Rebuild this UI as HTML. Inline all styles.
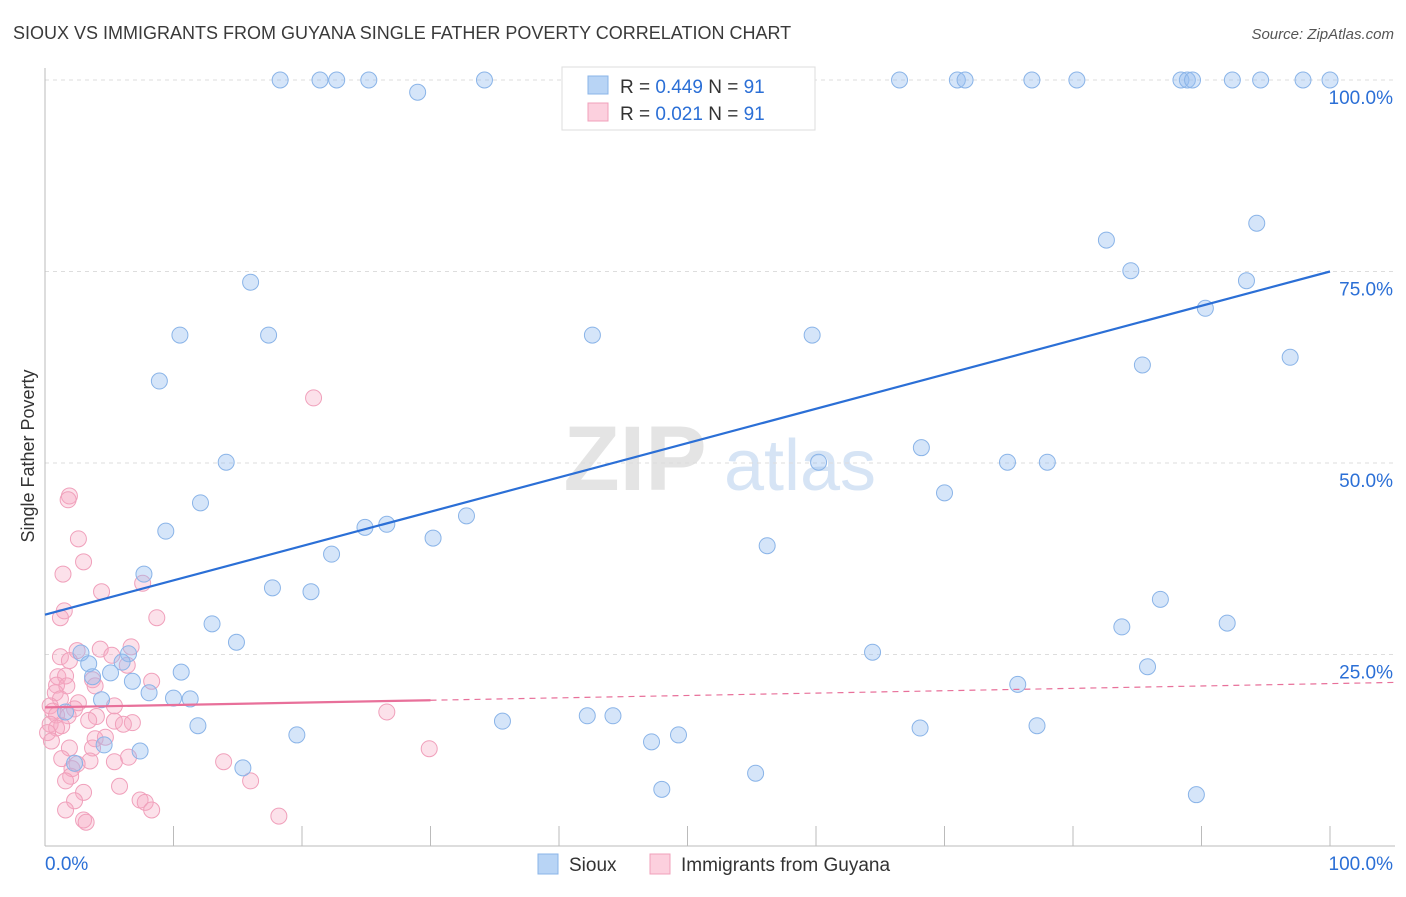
<!DOCTYPE html>
<html><head><meta charset="utf-8"><style>
body{margin:0;background:#fff;font-family:"Liberation Sans",sans-serif}
svg text{font-family:"Liberation Sans",sans-serif}
</style></head><body>
<svg id="chart" width="1406" height="892" xmlns="http://www.w3.org/2000/svg">
<text x="13" y="39" font-size="18" fill="#3a3a3a">SIOUX VS IMMIGRANTS FROM GUYANA SINGLE FATHER POVERTY CORRELATION CHART</text>
<text x="1394" y="39" font-size="15" fill="#555" text-anchor="end" font-style="italic">Source: ZipAtlas.com</text>
<text transform="translate(34,456) rotate(-90)" font-size="18" fill="#333" text-anchor="middle">Single Father Poverty</text>
<g>
<text x="635" y="490" font-size="92" fill="#e4e4e4" text-anchor="middle" font-family="Liberation Serif" font-weight="bold">ZIP</text>
<text x="800" y="490" font-size="72" fill="#d6e4f5" text-anchor="middle">atlas</text>
</g>
<g id="grid"></g><g id="axes"></g><g id="pts"></g><g id="trends"></g>
<g>
<rect x="562" y="67" width="253" height="63" fill="#fff" stroke="#ddd"/>
<rect x="588" y="76" width="20" height="18" fill="#b8d4f5" stroke="#8ab4e8"/>
<text x="620" y="93" font-size="19" fill="#333">R = <tspan fill="#2b6fd6">0.449</tspan>   N = <tspan fill="#2b6fd6">91</tspan></text>
<rect x="588" y="103" width="20" height="18" fill="#fcd0de" stroke="#f0a0bb"/>
<text x="620" y="120" font-size="19" fill="#333">R =  <tspan fill="#2b6fd6">0.021</tspan>   N = <tspan fill="#2b6fd6">91</tspan></text>
</g>
<g>
<rect x="538" y="854" width="20" height="20" fill="#b8d4f5" stroke="#8ab4e8"/>
<text x="569" y="871" font-size="19" fill="#333">Sioux</text>
<rect x="650" y="854" width="20" height="20" fill="#fcd0de" stroke="#f0a0bb"/>
<text x="681" y="871" font-size="19" fill="#333">Immigrants from Guyana</text>
</g>
</svg>
<script>
const yTicks=[25,50,75,100];
const yTickLabels=["25.0%","50.0%","75.0%","100.0%"];
const xTicks=[10,20,30,40,50,60,70,80,90,100];
const siouxX=[18.3,21.4,22.7,25.2,29.0,34.2,46.5,51.9,66.5,71.0,71.6,76.8,80.3,88.4,88.9,89.3,92.4,94.6,97.9,100,94.3,82.6,84.5,93.5,90.3,16.0,10.5,17.4,42.6,59.7,96.9,85.4,8.9,68.2,14.1,60.2,74.9,78.0,70.0,12.1,32.8,26.6,24.9,9.4,30.2,56.2,22.3,7.7,17.7,20.7,86.8,92.0,13.0,83.8,14.9,64.4,2.8,6.5,6.0,3.4,85.8,10.6,5.1,3.7,6.8,75.7,8.1,10.0,11.3,4.4,1.6,35.6,42.2,44.2,11.9,68.1,77.2,19.6,49.3,47.2,4.6,7.4,2.3,15.4,55.3,48.0,89.6];
const siouxY=[100,100,100,100,98.4,100,100,100,100,100,100,100,100,100,100,100,100,100,100,100,81.3,79.1,75.1,73.8,70.2,73.6,66.7,66.7,66.7,66.7,63.8,62.8,60.7,52.0,50.1,50.1,50.1,50.1,46.1,44.8,43.1,42.0,41.6,41.1,40.2,39.2,38.1,35.5,33.7,33.2,32.2,29.1,29.0,28.6,26.6,25.3,25.2,25.1,24.0,23.8,23.4,22.7,22.6,22.1,21.5,21.1,20.0,19.3,19.2,19.1,17.5,16.3,17.0,17.0,15.7,15.4,15.7,14.5,14.5,13.6,13.2,12.4,10.8,10.2,9.5,7.4,6.7];
const guyX=[20.9,1.9,1.8,2.6,3.0,1.4,4.4,7.6,1.5,1.2,8.7,2.5,4.3,6.7,5.2,1.2,1.9,6.4,1.0,1.6,3.7,8.3,0.9,3.9,1.7,0.8,1.2,2.6,5.4,0.4,2.3,0.6,0.9,1.8,26.6,4.0,3.4,5.4,6.8,6.1,0.4,1.3,0.9,0.2,3.9,4.7,0.5,1.9,3.7,29.9,6.5,5.4,1.3,3.5,13.9,2.5,2.1,2.0,1.6,16.0,5.8,3.0,2.3,7.4,7.8,8.3,1.6,3.0,3.2,18.2];
const guyY=[58.5,45.7,45.2,40.1,37.1,35.5,33.2,34.3,30.7,29.8,29.8,25.5,25.7,26.0,24.9,24.7,24.2,23.6,22.1,22.2,21.7,21.5,21.0,20.9,20.9,20.0,19.2,18.7,18.3,18.3,17.9,17.6,17.1,17.0,17.5,16.9,16.4,16.3,16.1,15.9,15.9,15.7,15.4,14.8,14.0,14.2,13.7,12.8,12.8,12.7,11.6,11.0,11.4,11.1,11.0,10.7,10.1,9.1,8.5,8.5,7.8,7.0,5.9,6.0,5.7,4.7,4.7,3.4,3.1,3.9];
const siouxTrend=[30.2,75.0];
const guyTrend=[18.1,21.2];
const NS="http://www.w3.org/2000/svg";
const X=v=>45+v*12.85, Y=v=>846-v*7.66;
function mk(tag,attrs,parent){const e=document.createElementNS(NS,tag);for(const k in attrs)e.setAttribute(k,attrs[k]);parent.appendChild(e);return e;}
const grid=document.getElementById('grid'),axes=document.getElementById('axes'),pts=document.getElementById('pts'),tr=document.getElementById('trends');
yTicks.forEach((t,i)=>{
 const l=mk('line',{x1:45,x2:1395,y1:Y(t),y2:Y(t),stroke:'#ddd','stroke-dasharray':'4,4'},grid);
 
 
 const tx=mk('text',{x:1393,y:Y(t)+24,'font-size':19,fill:'#2b6fd6','text-anchor':'end'},axes);
 tx.textContent=yTickLabels[i];
 
 
});
let a=mk('line',{x1:45,x2:45,y1:68,y2:846,stroke:'#bbb'},axes);


a=mk('line',{x1:45,x2:1395,y1:846,y2:846,stroke:'#bbb'},axes);


xTicks.forEach(t=>{const l=mk('line',{x1:X(t),x2:X(t),y1:826,y2:846,stroke:'#bbb'},axes);
 
 });
let t0=mk('text',{x:45,y:870,'font-size':19,fill:'#2b6fd6'},axes);t0.textContent='0.0%';


t0=mk('text',{x:1393,y:870,'font-size':19,fill:'#2b6fd6','text-anchor':'end'},axes);t0.textContent='100.0%';


guyX.forEach((x,i)=>{const c=mk('circle',{cx:X(x),cy:Y(guyY[i]),r:8,fill:'rgba(245,170,195,0.35)',stroke:'#f0a0bb','stroke-width':1},pts);
 
 });
siouxX.forEach((x,i)=>{const c=mk('circle',{cx:X(x),cy:Y(siouxY[i]),r:8,fill:'rgba(150,190,240,0.4)',stroke:'#8ab4e8','stroke-width':1},pts);
 
 });
let ln=mk('line',{x1:X(0),y1:Y(siouxTrend[0]),x2:X(100),y2:Y(siouxTrend[1]),stroke:'#2b6fd6','stroke-width':2.2},tr);


const gy=x=>guyTrend[0]+(guyTrend[1]-guyTrend[0])*x/100;
ln=mk('line',{x1:X(0),y1:Y(gy(0)),x2:X(30),y2:Y(gy(30)),stroke:'#e8709a','stroke-width':2.2},tr);


ln=mk('line',{x1:X(30),y1:Y(gy(30)),x2:X(105),y2:Y(gy(105)),stroke:'#e8709a','stroke-width':1.2,'stroke-dasharray':'6,5'},tr);


</script>
</body></html>
